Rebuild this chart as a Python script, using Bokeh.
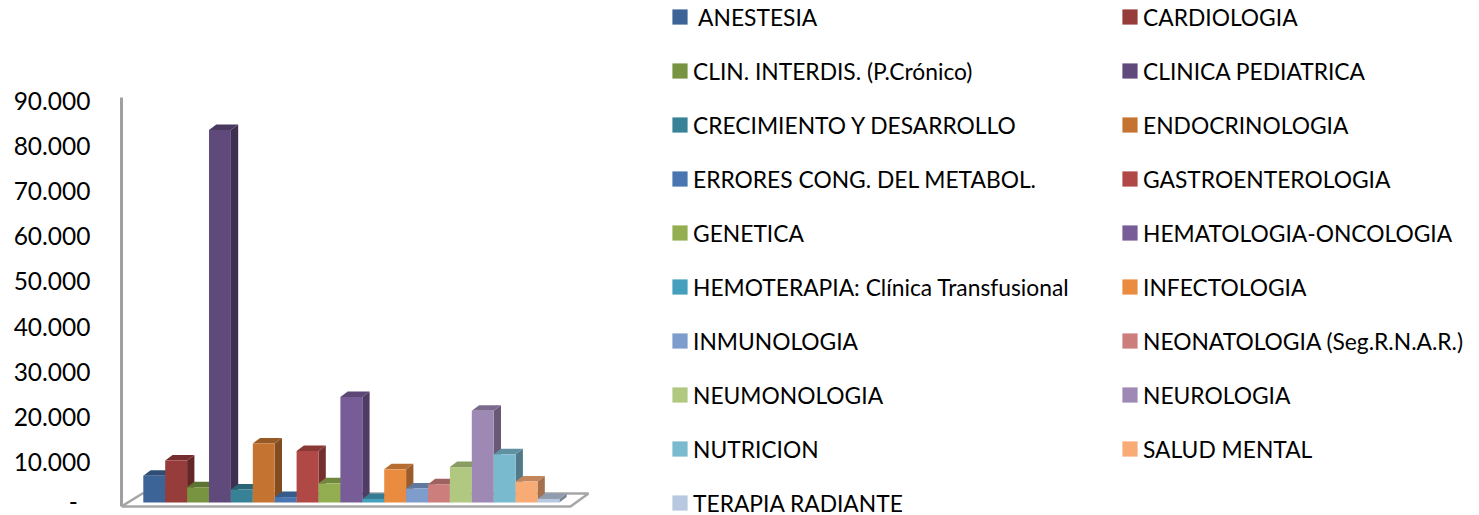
from bokeh.plotting import figure
from bokeh.models import Range1d, Legend, LegendItem, FixedTicker
from bokeh.embed import file_html
from bokeh.resources import INLINE

categories = [" ANESTESIA", "CARDIOLOGIA", "CLIN. INTERDIS. (P.Crónico)", "CLINICA PEDIATRICA",
              "CRECIMIENTO Y DESARROLLO", "ENDOCRINOLOGIA", "ERRORES CONG. DEL METABOL.",
              "GASTROENTEROLOGIA", "GENETICA", "HEMATOLOGIA-ONCOLOGIA",
              "HEMOTERAPIA: Clínica Transfusional", "INFECTOLOGIA", "INMUNOLOGIA",
              "NEONATOLOGIA (Seg.R.N.A.R.)", "NEUMONOLOGIA", "NEUROLOGIA", "NUTRICION",
              "SALUD MENTAL", "TERAPIA RADIANTE"]
values = [5950, 9300, 3400, 82600, 2900, 13100, 1200, 11400, 4250, 23400,
          800, 7350, 3100, 4050, 7850, 20350, 10700, 4650, 800]
colors = ["#3C6496", "#963C3A", "#789440", "#604A7B", "#378296", "#C47430", "#4976B0",
          "#B04846", "#92AE50", "#775C98", "#44A0BC", "#EA8C40", "#7E9CCC", "#CC7E7C",
          "#B0C880", "#9E88B4", "#7ABACF", "#F9AB76", "#B8C8E0"]
y_ticks = [0, 10000, 20000, 30000, 40000, 50000, 60000, 70000, 80000, 90000]
y_labels = ["-  ", "10.000", "20.000", "30.000", "40.000", "50.000", "60.000", "70.000", "80.000", "90.000"]


def shade(c, f):
    r, g, b = (int(c[i:i + 2], 16) for i in (1, 3, 5))
    return "#%02X%02X%02X" % (int(r * f), int(g * f), int(b * f))


FIG_W, FIG_H = 1479, 515
LEFT = 121
ZERO_Y = 506             # zero line, from the top of the figure
BAR_PX = 21.9
PX_PER_UNIT = 406 / 90000
BAR0_PX = 21.8           # first bar's left edge, right of the wall
BASE = 4 / PX_PER_UNIT   # bars stand slightly behind the floor's front edge
DX = 7.3 / BAR_PX
DY = 5.5 / PX_PER_UNIT

x0 = -BAR0_PX / BAR_PX
x1 = x0 + (FIG_W - LEFT) / BAR_PX
p = figure(width=FIG_W, height=FIG_H, output_backend="svg", toolbar_location=None,
           x_range=Range1d(x0, x1),
           y_range=Range1d(-(FIG_H - ZERO_Y) / PX_PER_UNIT, ZERO_Y / PX_PER_UNIT),
           min_border_left=LEFT, min_border_bottom=0, min_border_top=0, min_border_right=0,
           outline_line_color=None, background_fill_color="white", x_axis_type=None)
p.grid.visible = False

# floor
fx_back = x0 + 21 / BAR_PX
fx_front_r = x0 + 449 / BAR_PX
fx_back_r = x0 + 467 / BAR_PX
fy = 13 / PX_PER_UNIT
p.patch([x0, fx_front_r, fx_back_r, fx_back], [0, 0, fy, fy], fill_color="white",
        line_color="#A6A6A6", line_width=2.5)

n = len(values)
lefts = list(range(n))
rights = [i + 1 for i in lefts]
tops = [v + BASE for v in values]

p.patches([[r, r + DX, r + DX, r] for r in rights],
          [[BASE, BASE + DY, t + DY, t] for t in tops],
          fill_color=[shade(c, 0.66) for c in colors], line_color=None)
p.patches([[l, l + DX, r + DX, r] for l, r in zip(lefts, rights)],
          [[t, t + DY, t + DY, t] for t in tops],
          fill_color=[shade(c, 0.78) for c in colors], line_color=None)

items = []
for i in range(n):
    r = p.quad(left=[lefts[i]], right=[rights[i]], bottom=[BASE], top=[tops[i]],
               fill_color=colors[i], line_color=None)
    items.append(LegendItem(label=categories[i], renderers=[r]))

ax = p.yaxis[0]
ax.ticker = FixedTicker(ticks=y_ticks)
ax.major_label_overrides = dict(zip(y_ticks, y_labels))
ax.major_tick_line_color = None
ax.minor_tick_line_color = None
ax.bounds = (0, 90700)
ax.axis_line_color = "#A0A0A0"
ax.axis_line_width = 3
ax.major_label_standoff = 25
ax.major_label_text_font = "Lato"
ax.major_label_text_font_size = "24.5px"
ax.major_label_text_color = "#000000"

legend = Legend(items=items, orientation="horizontal", ncols=2, location=(549, -2), border_line_color=None,
                background_fill_color=None, background_fill_alpha=0, margin=0, padding=0,
                glyph_width=19, glyph_height=19, label_text_font="Lato",
                label_text_font_size="22.8px", label_text_color="#000000",
                label_standoff=4, spacing=25, label_height=29, label_width=402)
p.add_layout(legend, "center")

open("out.html", "w").write(file_html(p, INLINE))
